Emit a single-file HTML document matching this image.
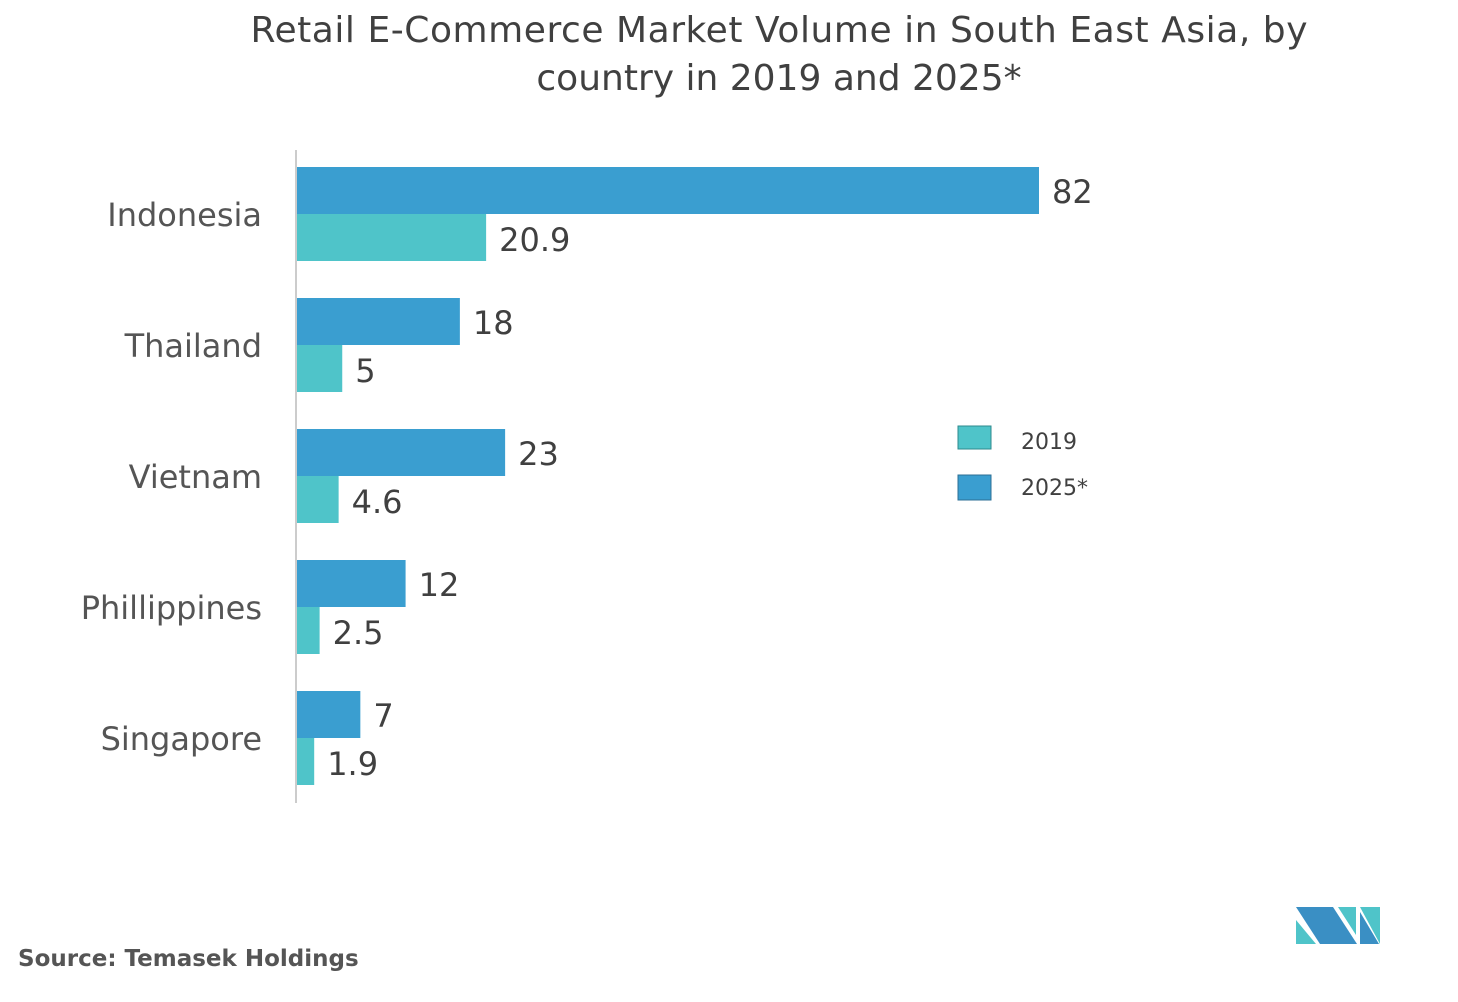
<!DOCTYPE html>
<html><head><meta charset="utf-8"><style>
body{margin:0;background:#fff;}
svg{display:block;font-family:"DejaVu Sans","Liberation Sans",sans-serif;}
</style></head><body>
<svg width="1458" height="1002">
<text x="779" y="42" text-anchor="middle" font-size="36" fill="#404040" textLength="1057">Retail E-Commerce Market Volume in South East Asia, by</text>
<text x="779" y="90" text-anchor="middle" font-size="36" fill="#404040">country in 2019 and 2025*</text>
<line x1="296" y1="150" x2="296" y2="803" stroke="#ccc" stroke-width="2"/>
<g id="bars"></g>
<rect x="958" y="426" width="33" height="23" fill="#4fc4c9" stroke="#2e8a8d"/>
<text x="1021" y="449" font-size="22" fill="#404040">2019</text>
<rect x="958" y="475" width="33" height="25" fill="#3a9ed0" stroke="#2c6f94"/>
<text x="1021" y="495" font-size="22" fill="#404040">2025*</text>
<text x="18" y="966" font-size="23" font-weight="bold" fill="#555">Source: Temasek Holdings</text>
<g>
<polygon points="1296,907 1333,907 1357,944 1320,944" fill="#3a8fc4"/>
<polygon points="1296,920 1316,944 1296,944" fill="#4fc4c9"/>
<polygon points="1338,907 1356,907 1356,935" fill="#4fc4c9"/>
<polygon points="1360,907 1380,907 1380,944" fill="#4fc4c9"/>
<polygon points="1360,912 1379,944 1360,944" fill="#3a8fc4"/>
</g>
</svg>
<script>
const categories=["Indonesia","Thailand","Vietnam","Phillippines","Singapore"];
const values2025=[82,18,23,12,7];
const values2019=[20.9,5,4.6,2.5,1.9];
const labels2025=["82","18","23","12","7"];
const labels2019=["20.9","5","4.6","2.5","1.9"];
const g=document.getElementById('bars');
const NS='http://www.w3.org/2000/svg';
const x0=297, scale=742/82;
function xs(v){return x0+v*scale;}
function yg(i){return 167+i*131;}
function mk(tag,attrs,txt){const e=document.createElementNS(NS,tag);for(const k in attrs)e.setAttribute(k,attrs[k]);if(txt!==undefined)e.textContent=txt;g.appendChild(e);return e;}
categories.forEach((c,i)=>{
  const y=yg(i);
  const t=mk('text',{x:262,y:y+59,'text-anchor':'end','font-size':32,fill:'#555'},c);
  
  
  const b1=mk('rect',{x:x0,y:y,width:xs(values2025[i])-x0,height:47,fill:'#3a9ed0'});
  
  
  const l1=mk('text',{x:xs(values2025[i])+13,y:y+36,'font-size':32,fill:'#404040'},labels2025[i]);
  
  
  const b2=mk('rect',{x:x0,y:y+47,width:xs(values2019[i])-x0,height:47,fill:'#4fc4c9'});
  
  
  const l2=mk('text',{x:xs(values2019[i])+13,y:y+84,'font-size':32,fill:'#404040'},labels2019[i]);
  
  
});
</script>
</body></html>
